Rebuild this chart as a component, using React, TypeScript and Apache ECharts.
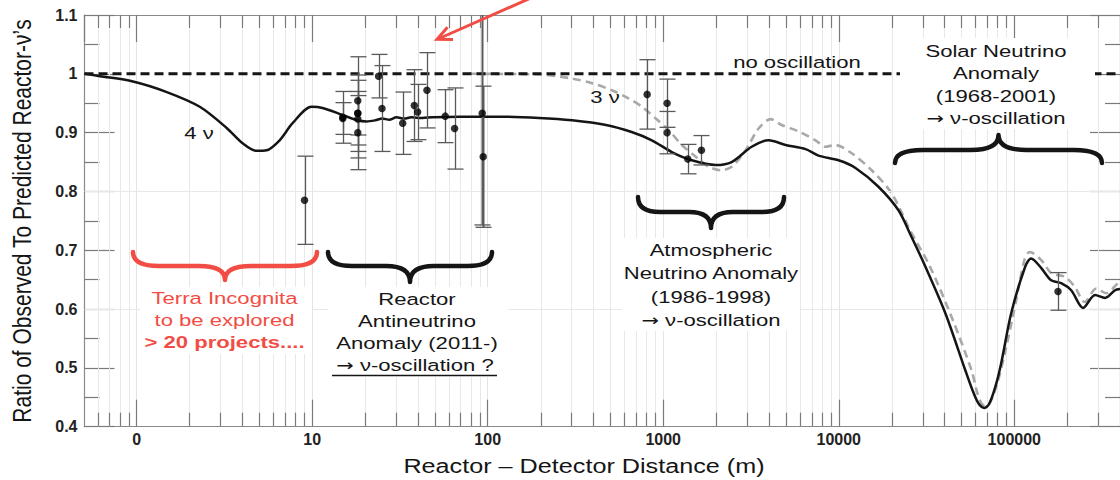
import React, { useEffect, useRef } from "react";
import * as echarts from "echarts";

const FONT = "'Liberation Sans', Arial, Helvetica, sans-serif";

// minor (2..9 x 10^k) positions of the log x axis
const minorTicks: number[] = [
  0.6, 0.7, 0.8, 0.9, 2, 3, 4, 5, 6, 7, 8, 9, 20, 30, 40, 50, 60, 70, 80, 90,
  200, 300, 400, 500, 600, 700, 800, 900, 2000, 3000, 4000, 5000, 6000, 7000,
  8000, 9000, 20000, 30000, 40000, 50000, 60000, 70000, 80000, 90000, 200000,
  300000,
];
const yGridLines: number[] = [0.6, 0.8];

// no-oscillation expectation
const noOsc: number[][] = [
  [0.505, 1.0],
  [400000, 1.0],
];

// 4-neutrino (3+1) prediction
const fourNu: number[][] = [
  [0.505, 1.0], [0.618, 0.996], [0.953, 0.987], [1.487, 0.969], [2.29, 0.944],
  [3.26, 0.908], [4.02, 0.882], [4.83, 0.869], [5.51, 0.87], [6.53, 0.887],
  [7.74, 0.916], [9.92, 0.944], [11.46, 0.942], [14.89, 0.93], [18.1, 0.921],
  [20.4, 0.919], [22.9, 0.921], [25.1, 0.924], [27.5, 0.922], [30.2, 0.926],
  [33.5, 0.924], [36.7, 0.926], [42.4, 0.925], [48.3, 0.926], [68.8, 0.927],
  [116.4, 0.927], [196, 0.925], [303, 0.921], [472, 0.913], [661, 0.901],
  [861, 0.887], [1119, 0.867], [1455, 0.853], [1992, 0.845], [2455, 0.85],
  [3190, 0.876], [3990, 0.887], [4980, 0.879], [6470, 0.872], [7670, 0.861],
  [9970, 0.853], [12450, 0.84], [16830, 0.808], [21880, 0.768], [25940, 0.723],
  [31170, 0.672], [40480, 0.593], [52580, 0.496], [58500, 0.458], [63000, 0.438],
  [67500, 0.432], [72000, 0.439], [78000, 0.468], [84200, 0.508], [96000, 0.593],
  [115300, 0.672], [124700, 0.686], [142100, 0.67], [162000, 0.649], [184900, 0.644],
  [210900, 0.632], [246500, 0.602], [288400, 0.624], [328700, 0.619], [374800, 0.632],
  [400000, 0.634],
];

// 3-neutrino prediction
const threeNu: number[][] = [
  [78.5, 1.0], [196, 0.999], [302, 0.992], [393, 0.984], [510, 0.972],
  [637, 0.958], [756, 0.944], [907, 0.924], [1076, 0.904], [1277, 0.879],
  [1533, 0.859], [1817, 0.842], [2125, 0.836], [2455, 0.842], [2946, 0.87],
  [3493, 0.907], [4090, 0.923], [4725, 0.913], [5900, 0.902], [7375, 0.887],
  [8370, 0.876], [9530, 0.879], [11850, 0.865], [15400, 0.836], [20000, 0.797],
  [25470, 0.734], [33100, 0.672], [43870, 0.587], [57020, 0.496], [61500, 0.458],
  [65500, 0.438], [69500, 0.435], [74100, 0.446], [80000, 0.474], [88350, 0.525],
  [100700, 0.604], [114800, 0.686], [122500, 0.697], [142600, 0.683], [162500, 0.661],
  [193700, 0.655], [220700, 0.638], [251800, 0.612], [293000, 0.635], [334000, 0.627],
  [389300, 0.644], [400000, 0.646],
];

// measurements: distance (m), observed/predicted ratio, error
const expDist: number[] = [
  9.05, 14.95, 14.95, 18.2, 18.2, 18.2, 18.2, 18.2, 23.9, 25.0, 32.8, 38.2, 39.9,
  45.1, 57.3, 64.8, 93.1, 94.3, 810, 1052, 1052, 1380, 1651, 177400,
];
const expRatio: number[] = [
  0.785, 0.926, 0.924, 0.954, 0.933, 0.933, 0.923, 0.9, 0.996, 0.941, 0.916, 0.946,
  0.935, 0.972, 0.928, 0.907, 0.933, 0.859, 0.965, 0.95, 0.9, 0.855, 0.87, 0.63,
];
const expErr: number[] = [
  0.075, 0.044, 0.027, 0.075, 0.037, 0.065, 0.066, 0.063, 0.037, 0.073, 0.053, 0.061,
  0.047, 0.064, 0.045, 0.069, 0.19, 0.12, 0.059, 0.041, 0.036, 0.025, 0.025, 0.032,
];

const RED = "#f24d44";
const INK = "#151515";

function bracePath(x1: number, x2: number, y: number, yh: number, ytip: number, r: number): string {
  const m = (x1 + x2) / 2;
  return (
    `M${x1} ${y}Q${x1} ${yh} ${x1 + r} ${yh}L${m - r} ${yh}Q${m} ${yh} ${m} ${ytip}` +
    `Q${m} ${yh} ${m + r} ${yh}L${x2 - r} ${yh}Q${x2} ${yh} ${x2} ${y}`
  );
}

function txt(text: string, x: number, y: number, o: any = {}) {
  const size = o.size ?? 17;
  return {
    type: "text",
    x,
    y,
    z: 12,
    scaleX: o.sx ?? 1.3,
    scaleY: o.sy ?? 1,
    rotation: o.rot ?? 0,
    style: {
      text,
      fill: o.color ?? INK,
      fontSize: size,
      fontFamily: FONT,
      fontWeight: o.bold ? "bold" : "normal",
      align: "center",
      verticalAlign: "middle",
      rich: {
        a: { fontFamily: "'DejaVu Sans', sans-serif", fontSize: size - 1, fill: o.color ?? INK },
      },
    },
  };
}

function box(x: number, y: number, w: number, h: number) {
  return { type: "rect", z: 10, shape: { x, y, width: w, height: h }, style: { fill: "#fff" } };
}

export default function App() {
  const ref = useRef<HTMLDivElement>(null);

  useEffect(() => {
    if (!ref.current) return;
    echarts.graphic.registerShape("braceRed", echarts.graphic.extendPath(bracePath(133, 317, 252, 266, 280, 26), {}) as any);
    echarts.graphic.registerShape("braceReactor", echarts.graphic.extendPath(bracePath(328, 492, 252, 266, 282, 24), {}) as any);
    echarts.graphic.registerShape("braceAtmo", echarts.graphic.extendPath(bracePath(638, 784, 197, 212, 228, 22), {}) as any);
    echarts.graphic.registerShape("braceSolar", echarts.graphic.extendPath(bracePath(895, 1102, 163, 150, 135, 28), {}) as any);

    const chart = echarts.init(ref.current, null, { renderer: "svg" });

    const axisLineStyle = { color: "#8a8a8a", width: 1.2 };
    const tickStyle = { color: "#7a7a7a", width: 1.2 };
    const xFormatter = (v: number) => {
      const e = Math.round(Math.log10(v));
      return e === 0 ? "0" : String(Math.pow(10, e));
    };

    const braceStyle = (c: string) => ({ fill: "none", stroke: c, lineWidth: 4.5, lineCap: "round", lineJoin: "round" });

    const option: any = {
      animation: false,
      textStyle: { fontFamily: FONT },
      grid: { left: 84.5, top: 15, width: 1037.6, height: 411.7, containLabel: false },
      xAxis: [
        {
          type: "log",
          logBase: 10,
          min: 0.505,
          max: 400000,
          position: "bottom",
          axisLine: { show: true, lineStyle: axisLineStyle },
          axisTick: { show: true, inside: true, length: 27, lineStyle: tickStyle },
          axisLabel: {
            show: true,
            fontSize: 16,
            fontWeight: "bold",
            color: "#222",
            margin: 5,
            showMinLabel: false,
            showMaxLabel: false,
            formatter: xFormatter,
          },
          splitLine: { show: true, lineStyle: { color: "#e4e4e4", width: 1 } },
        },
        {
          type: "log",
          logBase: 10,
          min: 0.505,
          max: 400000,
          position: "top",
          axisLine: { show: true, lineStyle: axisLineStyle },
          axisTick: { show: true, inside: true, length: 27, lineStyle: tickStyle },
          axisLabel: { show: false },
          splitLine: { show: false },
        },
      ],
      yAxis: [
        {
          type: "value",
          min: 0.4,
          max: 1.1,
          interval: 0.1,
          position: "left",
          axisLine: { show: true, lineStyle: axisLineStyle },
          axisTick: { show: true, inside: true, length: 30, lineStyle: tickStyle },
          minorTick: { show: true, splitNumber: 2, length: 15, lineStyle: tickStyle },
          axisLabel: { fontSize: 16, fontWeight: "bold", color: "#222", margin: 7 },
          splitLine: { show: false },
        },
        {
          type: "value",
          min: 0.4,
          max: 1.1,
          interval: 0.1,
          position: "right",
          axisLine: { show: true, lineStyle: axisLineStyle },
          axisTick: { show: true, inside: true, length: 30, lineStyle: tickStyle },
          minorTick: { show: true, splitNumber: 2, length: 15, lineStyle: tickStyle },
          axisLabel: { show: false },
          splitLine: { show: false },
        },
      ],
      series: [
        {
          type: "custom",
          name: "minor",
          xAxisIndex: 0,
          yAxisIndex: 0,
          z: 1,
          silent: true,
          data: minorTicks.map((v) => [v, 1]),
          renderItem: (params: any, api: any) => {
            const cs = params.coordSys;
            const x = Math.round(api.coord([api.value(0), 1])[0]) + 0.5;
            const top = cs.y;
            const bot = cs.y + cs.height;
            return {
              type: "group",
              children: [
                { type: "line", shape: { x1: x, y1: top, x2: x, y2: bot }, style: { stroke: "#e8e8e8", lineWidth: 1 } },
                { type: "line", shape: { x1: x, y1: bot - 14, x2: x, y2: bot }, style: { stroke: "#7a7a7a", lineWidth: 1.2 } },
                { type: "line", shape: { x1: x, y1: top, x2: x, y2: top + 13 }, style: { stroke: "#7a7a7a", lineWidth: 1.2 } },
              ],
            };
          },
          markLine: {
            silent: true,
            symbol: "none",
            label: { show: false },
            lineStyle: { color: "#e8e8e8", type: "solid", width: 1 },
            data: yGridLines.map((v) => ({ yAxis: v })),
          },
        },
        {
          type: "line",
          name: "3 nu",
          data: threeNu,
          smooth: 0.3,
          symbol: "none",
          z: 3,
          silent: true,
          lineStyle: { color: "#a9a9a9", width: 2.6, type: [8, 5] },
        },
        {
          type: "line",
          name: "no oscillation",
          data: noOsc,
          symbol: "none",
          z: 4,
          silent: true,
          lineStyle: { color: INK, width: 3, type: [9, 5] },
        },
        {
          type: "line",
          name: "4 nu",
          data: fourNu,
          smooth: 0.3,
          symbol: "none",
          z: 5,
          silent: true,
          lineStyle: { color: INK, width: 2.5 },
        },
        {
          type: "custom",
          name: "errors",
          z: 6,
          silent: true,
          data: expDist.map((d, i) => [d, expRatio[i], expErr[i]]),
          renderItem: (params: any, api: any) => {
            const cs = params.coordSys;
            const d = api.value(0);
            const v = api.value(1);
            const e = api.value(2);
            const x = Math.round(api.coord([d, v])[0]) + 0.5;
            const yHi = api.coord([d, v + e])[1];
            const yLo = api.coord([d, v - e])[1];
            const top = cs.y;
            const bot = cs.y + cs.height;
            const stroke = "#5a5a5a";
            const children: any[] = [
              {
                type: "line",
                shape: { x1: x, y1: Math.max(yHi, top), x2: x, y2: Math.min(yLo, bot) },
                style: { stroke, lineWidth: e > 0.1 ? 2 : 1.3 },
              },
            ];
            if (yHi >= top) children.push({ type: "line", shape: { x1: x - 8, y1: yHi, x2: x + 8, y2: yHi }, style: { stroke, lineWidth: 1.3 } });
            if (yLo <= bot) children.push({ type: "line", shape: { x1: x - 8, y1: yLo, x2: x + 8, y2: yLo }, style: { stroke, lineWidth: 1.3 } });
            return { type: "group", children };
          },
        },
        {
          type: "scatter",
          name: "data",
          z: 7,
          silent: true,
          symbol: "circle",
          symbolSize: 7.5,
          itemStyle: { color: "#000" },
          data: expDist.map((d, i) => [d, expRatio[i]]),
        },
      ],
      graphic: {
        elements: [
          box(140, 287, 172, 67),
          box(328, 287, 180, 90),
          box(622, 238, 178, 93),
          box(900, 38, 195, 91),
          { type: "braceRed", x: 0, y: 0, z: 11, style: braceStyle(RED) },
          { type: "braceReactor", x: 0, y: 0, z: 11, style: braceStyle(INK) },
          { type: "braceAtmo", x: 0, y: 0, z: 11, style: braceStyle(INK) },
          { type: "braceSolar", x: 0, y: 0, z: 11, style: braceStyle(INK) },
          // red arrow
          { type: "line", z: 12, shape: { x1: 533, y1: -3, x2: 438, y2: 39 }, style: { stroke: RED, lineWidth: 3 } },
          {
            type: "polyline",
            z: 12,
            shape: { points: [[447.5, 27.3], [437, 39.3], [453, 39.6]] },
            style: { stroke: RED, lineWidth: 3, fill: "none", lineJoin: "miter" },
          },
          txt("4 ν", 199, 133),
          txt("3 ν", 605, 97),
          txt("no oscillation", 797, 62),
          txt("Terra Incognita", 224.5, 298, { color: RED }),
          txt("to be explored", 224.5, 320, { color: RED }),
          txt("> 20 projects....", 224.5, 342, { color: RED, bold: true }),
          txt("Reactor", 417, 299),
          txt("Antineutrino", 417, 321),
          txt("Anomaly (2011-)", 417, 343),
          txt("{a|→} ν-oscillation ?", 415, 365),
          { type: "line", z: 12, shape: { x1: 332, y1: 375.5, x2: 497, y2: 375.5 }, style: { stroke: INK, lineWidth: 1.5 } },
          txt("Atmospheric", 711, 250),
          txt("Neutrino Anomaly", 711, 273),
          txt("(1986-1998)", 711, 297),
          txt("{a|→} ν-oscillation", 711, 320),
          txt("Solar Neutrino", 996, 51),
          txt("Anomaly", 996, 73),
          txt("(1968-2001)", 996, 96),
          txt("{a|→} ν-oscillation", 996, 118),
          txt("Reactor – Detector Distance (m)", 584, 466, { size: 21, sx: 1.2 }),
          txt("Ratio of Observed To Predicted Reactor-ν’s", 22, 221, { size: 21, sx: 1, sy: 1.2, rot: Math.PI / 2 }),
        ],
      },
    };

    chart.setOption(option);
    return () => chart.dispose();
  }, []);

  return (
    <div
      ref={ref}
      style={{ position: "fixed", left: 0, top: 0, width: 1120, height: 480, background: "#fff" }}
    />
  );
}
